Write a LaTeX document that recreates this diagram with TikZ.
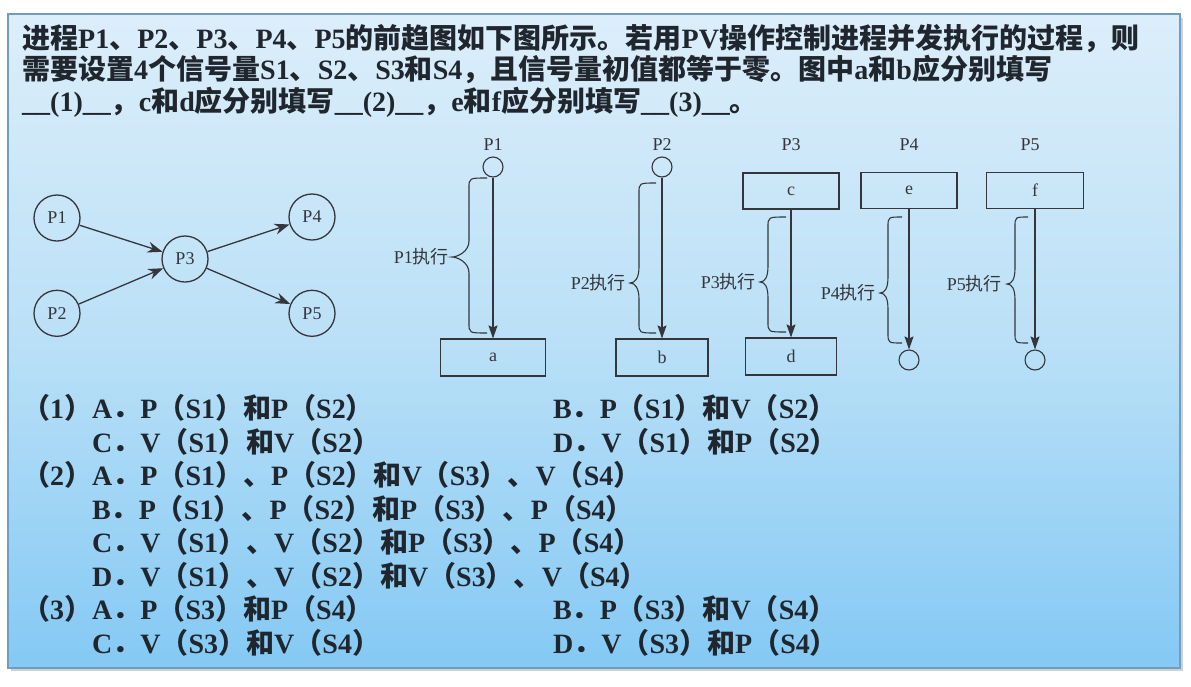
\documentclass[tikz,border=0pt]{standalone}
\usepackage{fontspec}
\usepackage{tikz}
\usetikzlibrary{arrows.meta,positioning}
\setmainfont{Liberation Serif}
\newfontfamily\cjkfont{Noto Sans CJK SC}
\newfontfamily\latfont{Liberation Serif}
% CJK runs switch font on their own
\XeTeXinterchartokenstate=1
\newXeTeXintercharclass\cjkclass
\newcount\cjkc
\def\setcjkrange#1#2{\cjkc=#1 \loop\XeTeXcharclass\cjkc=\cjkclass\advance\cjkc by 1 \ifnum\cjkc<#2 \repeat}
\setcjkrange{"3000}{"3040}
\setcjkrange{"4E00}{"A000}
\setcjkrange{"FF00}{"FFF0}
\XeTeXinterchartoks 0 \cjkclass = {\cjkfont}
\XeTeXinterchartoks 4095 \cjkclass = {\cjkfont}
\XeTeXinterchartoks \cjkclass 0 = {\latfont}
\XeTeXinterchartoks \cjkclass 4095 = {\latfont}
\definecolor{pnltop}{RGB}{220,238,250}
\definecolor{pnlmid}{RGB}{186,224,247}
\definecolor{pnlbot}{RGB}{132,201,244}
\definecolor{pnledge}{RGB}{112,158,192}
\definecolor{ink}{RGB}{32,38,46}
\definecolor{line}{RGB}{52,54,60}
\newcommand\tfont{\fontsize{28}{33}\selectfont\bfseries}
\newcommand\ofont{\fontsize{28}{33}\selectfont\bfseries}
\newcommand\dfont{\fontsize{18}{20}\selectfont}
% brace: hook x, spine x, tip x, top y, tip y, bottom y
\newcommand\pbrace[6]{%
  \draw[brc] (#1,#4) .. controls (#2,#4) .. (#2,#4+10) -- (#2,#5-16)
    .. controls (#2,#5-5) and (#3+5,#5) .. (#3,#5)
    .. controls (#3+5,#5) and (#2,#5+5) .. (#2,#5+16)
    -- (#2,#6-10) .. controls (#2,#6) .. (#1,#6);}
\tikzset{
  ttl/.style  = {anchor=base west, inner sep=0pt, text=ink, font=\tfont},
  opt/.style  = {anchor=base west, inner sep=0pt, text=ink, font=\ofont},
  proc/.style = {circle, draw=line, line width=1.3pt, minimum size=46pt,
                 inner sep=0pt, text=line, font=\dfont},
  dot/.style  = {circle, draw=line, line width=1.1pt, minimum size=20pt, inner sep=0pt},
  opbox/.style= {rectangle, draw=line, line width=1.1pt, minimum height=37pt,
                 inner sep=0pt, text=line, font=\dfont},
  lbl/.style  = {inner sep=0pt, text=line, font=\dfont},
  fl/.style   = {-{Stealth[length=15pt,width=11pt]}, line width=1.3pt, draw=line},
  vl/.style   = {-{Stealth[length=13pt,width=9pt,inset=2pt]}, line width=1.1pt, draw=line},
  brc/.style  = {line width=1.1pt, draw=line},
}
\begin{document}
\begin{tikzpicture}[x=1pt, y=-1pt, node distance=48pt]
  \useasboundingbox (0,0) rectangle (1191,686);
  % panel
  \fill[black!18] (11,18) rectangle (1183,671);
  \shade[top color=pnltop, bottom color=pnlbot, middle color=pnlmid]
        (8,14) rectangle (1180,668);
  \draw[pnledge, line width=1.2pt] (8,14) rectangle (1180,668);

  % question text
  \node[ttl] (t1) at (22,48) {进程P1、P2、P3、P4、P5的前趋图如下图所示。若用PV操作控制进程并发执行的过程，则};
  \node[ttl] (t2) at (22,79) {需要设置4个信号量S1、S2、S3和S4，且信号量初值都等于零。图中a和b应分别填写};
  \node[ttl] (t3) at (22,111) {\_\_(1)\_\_，c和d应分别填写\_\_(2)\_\_，e和f应分别填写\_\_(3)\_\_。};

  % precedence graph
  \node[proc] (p1) at (57,218) {P1};
  \node[proc, below=48pt of p1] (p2) {P2};
  \node[proc] (p3) at (185,259) {P3};
  \node[proc] (p4) at (312,217) {P4};
  \node[proc, below=49pt of p4] (p5) {P5};
  \draw[fl] (p1) -- (p3);
  \draw[fl] (p2) -- (p3);
  \draw[fl] (p3) -- (p4);
  \draw[fl] (p3) -- (p5);

  % process bodies
  \node[lbl] (n1) at (493,145) {P1};
  \node[dot] (s1) at (493,167) {};
  \node[opbox, minimum width=105pt] (a) at (493,357.5) {a};
  \draw[vl] (s1) -- (a);
  \pbrace{487}{469}{452}{178}{257}{333}
  \node[lbl, anchor=east] (x1) at (449,257) {P1执行};

  \node[lbl] (n2) at (662,145) {P2};
  \node[dot] (s2) at (662,167) {};
  \node[opbox, minimum width=92pt] (b) at (662,357.5) {b};
  \draw[vl] (s2) -- (b);
  \pbrace{656}{639}{630}{183}{283}{333}
  \node[lbl, anchor=east] (x2) at (626,283) {P2执行};

  \node[lbl] (n3) at (791,145) {P3};
  \node[opbox, minimum width=96pt, minimum height=36pt] (c) at (791,191) {c};
  \node[opbox, minimum width=91pt] (d) at (791,356.5) {d};
  \draw[vl] (c) -- (d);
  \pbrace{786}{768}{760}{217}{282}{332}
  \node[lbl, anchor=east] (x3) at (756,282) {P3执行};

  \node[lbl] (n4) at (909,145) {P4};
  \node[opbox, minimum width=96pt, minimum height=36pt] (e) at (909,190.5) {e};
  \node[dot] (s4) at (909,360) {};
  \draw[vl] (e) -- (s4);
  \pbrace{902}{888}{880}{217}{293}{343}
  \node[lbl, anchor=east] (x4) at (876,293) {P4执行};

  \node[lbl] (n5) at (1030,145) {P5};
  \node[opbox, minimum width=97pt, minimum height=36pt] (f) at (1035,190.5) {f};
  \node[dot] (s5) at (1035,360) {};
  \draw[vl] (f) -- (s5);
  \pbrace{1028}{1015}{1007}{217}{284}{343}
  \node[lbl, anchor=east] (x5) at (1002,284) {P5执行};

  % choices
  \node[opt] (q1a) at (22,418.5) {（1）A．P（S1）和P（S2）};
  \node[opt] (q1b) at (553,418.5) {B．P（S1）和V（S2）};
  \node[opt] (q1c) at (92,452) {C．V（S1）和V（S2）};
  \node[opt] (q1d) at (553,452) {D．V（S1）和P（S2）};
  \node[opt] (q2a) at (22,485.5) {（2）A．P（S1）、P（S2）和V（S3）、V（S4）};
  \node[opt] (q2b) at (92,519) {B．P（S1）、P（S2）和P（S3）、P（S4）};
  \node[opt] (q2c) at (92,552.5) {C．V（S1）、V（S2）和P（S3）、P（S4）};
  \node[opt] (q2d) at (92,586) {D．V（S1）、V（S2）和V（S3）、V（S4）};
  \node[opt] (q3a) at (22,619.5) {（3）A．P（S3）和P（S4）};
  \node[opt] (q3b) at (553,619.5) {B．P（S3）和V（S4）};
  \node[opt] (q3c) at (92,653) {C．V（S3）和V（S4）};
  \node[opt] (q3d) at (553,653) {D．V（S3）和P（S4）};
\end{tikzpicture}
\end{document}
